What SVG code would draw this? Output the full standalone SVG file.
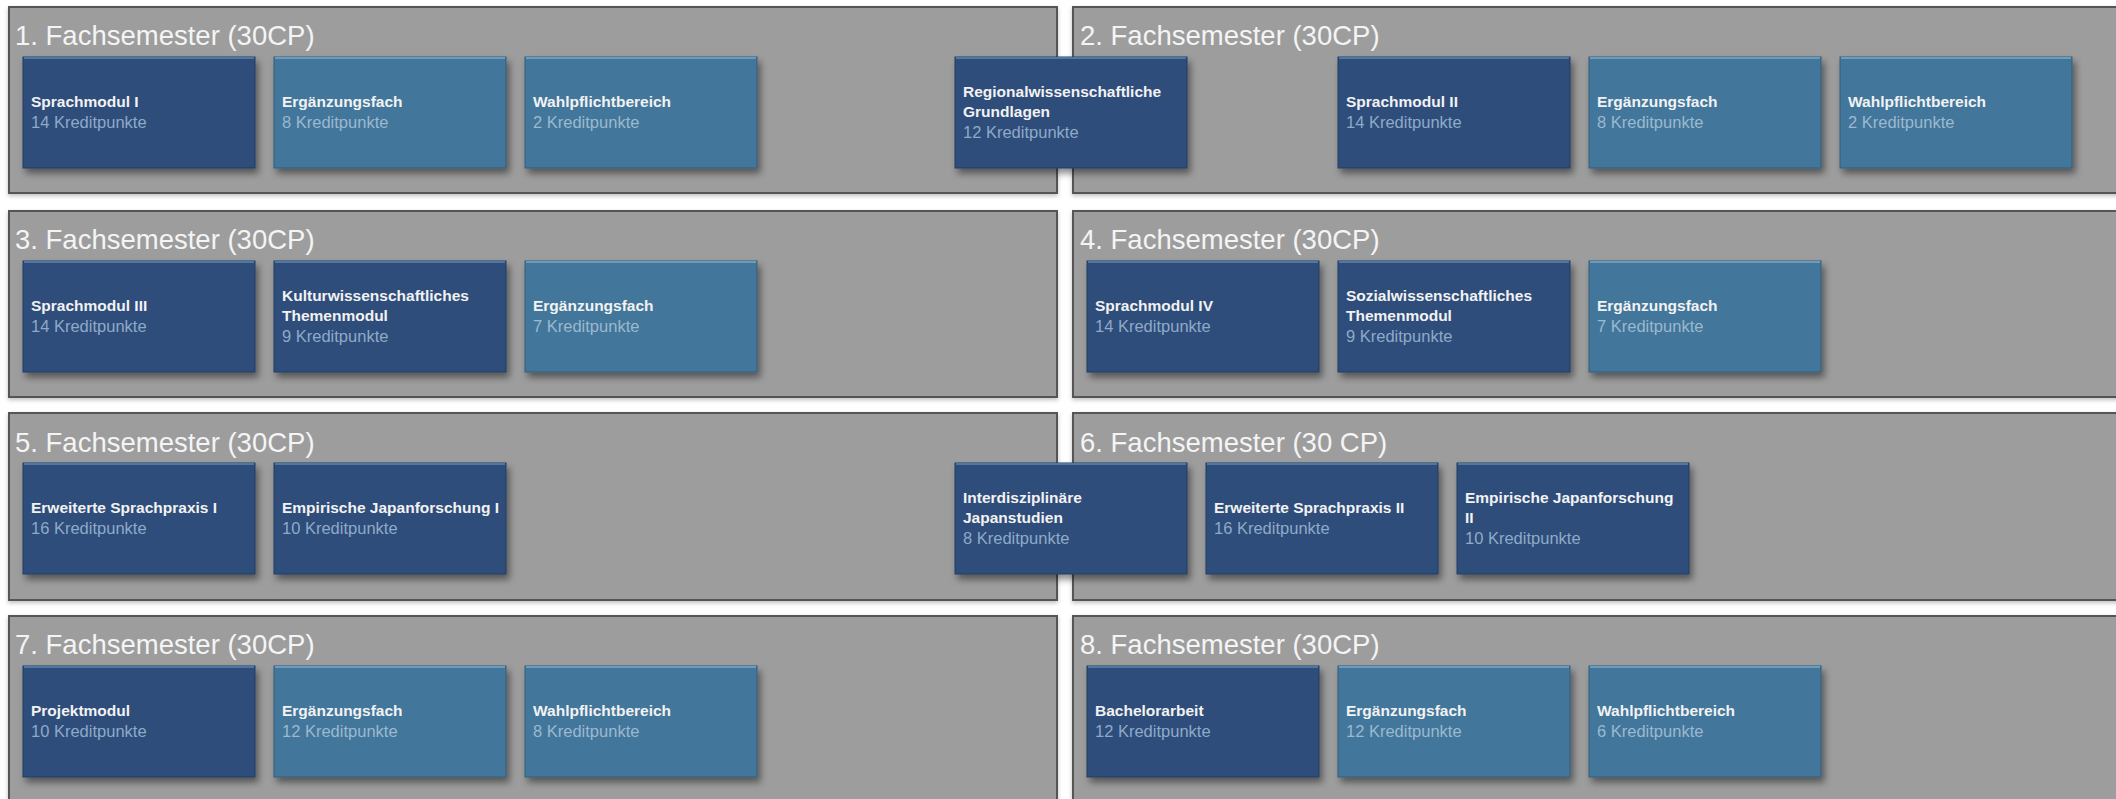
<svg xmlns="http://www.w3.org/2000/svg" width="2116" height="799" viewBox="0 0 2116 799">
<defs>
<filter id="sh" x="-10%" y="-10%" width="125%" height="135%">
<feDropShadow dx="3" dy="5" stdDeviation="3.5" flood-color="#000" flood-opacity="0.45"/>
</filter>
<filter id="psh" x="-2%" y="-5%" width="104%" height="115%">
<feDropShadow dx="0" dy="2" stdDeviation="2" flood-color="#000" flood-opacity="0.25"/>
</filter>
</defs>
<style>
.panel{fill:#9d9d9d;stroke:#555;stroke-width:2}
.title{font-family:"Liberation Sans",Arial,sans-serif;font-size:27.5px;fill:#f4f4f4}
.dark{fill:#2d4d7a;stroke:#233e63;stroke-width:1}
.light{fill:#43769b;stroke:#335d7c;stroke-width:1}
.bevd{stroke:#4f77a3;stroke-width:2}
.bevl{stroke:#6b9bbd;stroke-width:2}
.name{font-family:"Liberation Sans",Arial,sans-serif;font-size:15.5px;font-weight:bold;fill:#f2f2f2}
.cp{font-family:"Liberation Sans",Arial,sans-serif;font-size:16.5px;fill:#8eaac8}
.cpl{font-family:"Liberation Sans",Arial,sans-serif;font-size:16.5px;fill:#9cb9cf}
</style>
<rect x="0" y="0" width="2116" height="799" fill="#ffffff"/>

<g id="panels">
<g id="sem1"><rect class="panel" filter="url(#psh)" x="9" y="7" width="1048" height="186"/><text class="title" x="15" y="45">1. Fachsemester (30CP)</text></g>
<g id="sem2"><rect class="panel" filter="url(#psh)" x="1073" y="7" width="1050" height="186"/><text class="title" x="1080" y="45">2. Fachsemester (30CP)</text></g>
<g id="sem3"><rect class="panel" filter="url(#psh)" x="9" y="211" width="1048" height="186"/><text class="title" x="15" y="249">3. Fachsemester (30CP)</text></g>
<g id="sem4"><rect class="panel" filter="url(#psh)" x="1073" y="211" width="1050" height="186"/><text class="title" x="1080" y="249">4. Fachsemester (30CP)</text></g>
<g id="sem5"><rect class="panel" filter="url(#psh)" x="9" y="413" width="1048" height="187"/><text class="title" x="15" y="452">5. Fachsemester (30CP)</text></g>
<g id="sem6"><rect class="panel" filter="url(#psh)" x="1073" y="413" width="1050" height="187"/><text class="title" x="1080" y="452">6. Fachsemester (30 CP)</text></g>
<g id="sem7"><rect class="panel" filter="url(#psh)" x="9" y="616" width="1048" height="190"/><text class="title" x="15" y="654">7. Fachsemester (30CP)</text></g>
<g id="sem8"><rect class="panel" filter="url(#psh)" x="1073" y="616" width="1050" height="190"/><text class="title" x="1080" y="654">8. Fachsemester (30CP)</text></g>
</g>

<g id="connectors"></g>

<g id="modules">
<!-- Row 1 -->
<g id="m-sprach1"><rect class="dark" filter="url(#sh)" x="23" y="57" width="232" height="111"/><line class="bevd" x1="24" y1="58" x2="254" y2="58"/><text class="name" x="31" y="107">Sprachmodul I</text><text class="cp" x="31" y="128">14 Kreditpunkte</text></g>
<g id="m-erg1"><rect class="light" filter="url(#sh)" x="274" y="57" width="232" height="111"/><line class="bevl" x1="275" y1="58" x2="505" y2="58"/><text class="name" x="282" y="107">Ergänzungsfach</text><text class="cpl" x="282" y="128">8 Kreditpunkte</text></g>
<g id="m-wahl1"><rect class="light" filter="url(#sh)" x="525" y="57" width="232" height="111"/><line class="bevl" x1="526" y1="58" x2="756" y2="58"/><text class="name" x="533" y="107">Wahlpflichtbereich</text><text class="cpl" x="533" y="128">2 Kreditpunkte</text></g>
<g id="m-regio"><rect class="dark" filter="url(#sh)" x="955" y="57" width="232" height="111"/><line class="bevd" x1="956" y1="58" x2="1186" y2="58"/><text class="name" x="963" y="97">Regionalwissenschaftliche</text><text class="name" x="963" y="117">Grundlagen</text><text class="cp" x="963" y="138">12 Kreditpunkte</text></g>
<g id="m-sprach2"><rect class="dark" filter="url(#sh)" x="1338" y="57" width="232" height="111"/><line class="bevd" x1="1339" y1="58" x2="1569" y2="58"/><text class="name" x="1346" y="107">Sprachmodul II</text><text class="cp" x="1346" y="128">14 Kreditpunkte</text></g>
<g id="m-erg2"><rect class="light" filter="url(#sh)" x="1589" y="57" width="232" height="111"/><line class="bevl" x1="1590" y1="58" x2="1820" y2="58"/><text class="name" x="1597" y="107">Ergänzungsfach</text><text class="cpl" x="1597" y="128">8 Kreditpunkte</text></g>
<g id="m-wahl2"><rect class="light" filter="url(#sh)" x="1840" y="57" width="232" height="111"/><line class="bevl" x1="1841" y1="58" x2="2071" y2="58"/><text class="name" x="1848" y="107">Wahlpflichtbereich</text><text class="cpl" x="1848" y="128">2 Kreditpunkte</text></g>
<!-- Row 2 -->
<g id="m-sprach3"><rect class="dark" filter="url(#sh)" x="23" y="261" width="232" height="111"/><line class="bevd" x1="24" y1="262" x2="254" y2="262"/><text class="name" x="31" y="311">Sprachmodul III</text><text class="cp" x="31" y="332">14 Kreditpunkte</text></g>
<g id="m-kultur"><rect class="dark" filter="url(#sh)" x="274" y="261" width="232" height="111"/><line class="bevd" x1="275" y1="262" x2="505" y2="262"/><text class="name" x="282" y="301">Kulturwissenschaftliches</text><text class="name" x="282" y="321">Themenmodul</text><text class="cp" x="282" y="342">9 Kreditpunkte</text></g>
<g id="m-erg3"><rect class="light" filter="url(#sh)" x="525" y="261" width="232" height="111"/><line class="bevl" x1="526" y1="262" x2="756" y2="262"/><text class="name" x="533" y="311">Ergänzungsfach</text><text class="cpl" x="533" y="332">7 Kreditpunkte</text></g>
<g id="m-sprach4"><rect class="dark" filter="url(#sh)" x="1087" y="261" width="232" height="111"/><line class="bevd" x1="1088" y1="262" x2="1318" y2="262"/><text class="name" x="1095" y="311">Sprachmodul IV</text><text class="cp" x="1095" y="332">14 Kreditpunkte</text></g>
<g id="m-sozial"><rect class="dark" filter="url(#sh)" x="1338" y="261" width="232" height="111"/><line class="bevd" x1="1339" y1="262" x2="1569" y2="262"/><text class="name" x="1346" y="301">Sozialwissenschaftliches</text><text class="name" x="1346" y="321">Themenmodul</text><text class="cp" x="1346" y="342">9 Kreditpunkte</text></g>
<g id="m-erg4"><rect class="light" filter="url(#sh)" x="1589" y="261" width="232" height="111"/><line class="bevl" x1="1590" y1="262" x2="1820" y2="262"/><text class="name" x="1597" y="311">Ergänzungsfach</text><text class="cpl" x="1597" y="332">7 Kreditpunkte</text></g>
<!-- Row 3 -->
<g id="m-esp1"><rect class="dark" filter="url(#sh)" x="23" y="463" width="232" height="111"/><line class="bevd" x1="24" y1="464" x2="254" y2="464"/><text class="name" x="31" y="513">Erweiterte Sprachpraxis I</text><text class="cp" x="31" y="534">16 Kreditpunkte</text></g>
<g id="m-ejf1"><rect class="dark" filter="url(#sh)" x="274" y="463" width="232" height="111"/><line class="bevd" x1="275" y1="464" x2="505" y2="464"/><text class="name" x="282" y="513">Empirische Japanforschung I</text><text class="cp" x="282" y="534">10 Kreditpunkte</text></g>
<g id="m-inter"><rect class="dark" filter="url(#sh)" x="955" y="463" width="232" height="111"/><line class="bevd" x1="956" y1="464" x2="1186" y2="464"/><text class="name" x="963" y="503">Interdisziplinäre</text><text class="name" x="963" y="523">Japanstudien</text><text class="cp" x="963" y="544">8 Kreditpunkte</text></g>
<g id="m-esp2"><rect class="dark" filter="url(#sh)" x="1206" y="463" width="232" height="111"/><line class="bevd" x1="1207" y1="464" x2="1437" y2="464"/><text class="name" x="1214" y="513">Erweiterte Sprachpraxis II</text><text class="cp" x="1214" y="534">16 Kreditpunkte</text></g>
<g id="m-ejf2"><rect class="dark" filter="url(#sh)" x="1457" y="463" width="232" height="111"/><line class="bevd" x1="1458" y1="464" x2="1688" y2="464"/><text class="name" x="1465" y="503">Empirische Japanforschung</text><text class="name" x="1465" y="523">II</text><text class="cp" x="1465" y="544">10 Kreditpunkte</text></g>
<!-- Row 4 -->
<g id="m-projekt"><rect class="dark" filter="url(#sh)" x="23" y="666" width="232" height="111"/><line class="bevd" x1="24" y1="667" x2="254" y2="667"/><text class="name" x="31" y="716">Projektmodul</text><text class="cp" x="31" y="737">10 Kreditpunkte</text></g>
<g id="m-erg7"><rect class="light" filter="url(#sh)" x="274" y="666" width="232" height="111"/><line class="bevl" x1="275" y1="667" x2="505" y2="667"/><text class="name" x="282" y="716">Ergänzungsfach</text><text class="cpl" x="282" y="737">12 Kreditpunkte</text></g>
<g id="m-wahl7"><rect class="light" filter="url(#sh)" x="525" y="666" width="232" height="111"/><line class="bevl" x1="526" y1="667" x2="756" y2="667"/><text class="name" x="533" y="716">Wahlpflichtbereich</text><text class="cpl" x="533" y="737">8 Kreditpunkte</text></g>
<g id="m-bachelor"><rect class="dark" filter="url(#sh)" x="1087" y="666" width="232" height="111"/><line class="bevd" x1="1088" y1="667" x2="1318" y2="667"/><text class="name" x="1095" y="716">Bachelorarbeit</text><text class="cp" x="1095" y="737">12 Kreditpunkte</text></g>
<g id="m-erg8"><rect class="light" filter="url(#sh)" x="1338" y="666" width="232" height="111"/><line class="bevl" x1="1339" y1="667" x2="1569" y2="667"/><text class="name" x="1346" y="716">Ergänzungsfach</text><text class="cpl" x="1346" y="737">12 Kreditpunkte</text></g>
<g id="m-wahl8"><rect class="light" filter="url(#sh)" x="1589" y="666" width="232" height="111"/><line class="bevl" x1="1590" y1="667" x2="1820" y2="667"/><text class="name" x="1597" y="716">Wahlpflichtbereich</text><text class="cpl" x="1597" y="737">6 Kreditpunkte</text></g>
</g>
</svg>
